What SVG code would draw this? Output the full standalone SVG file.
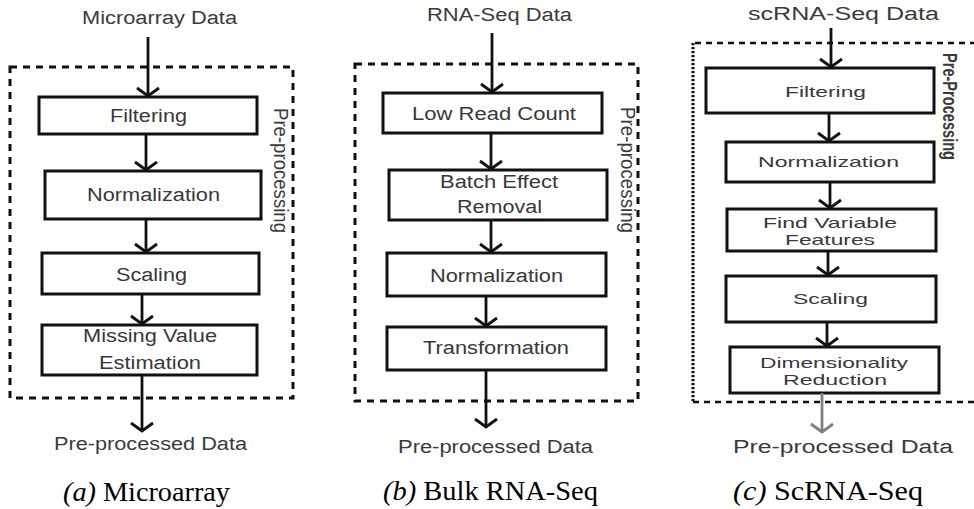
<svg xmlns="http://www.w3.org/2000/svg" width="974" height="509" viewBox="0 0 974 509">
  <style>
    .box { fill: #ffffff; stroke: #111111; stroke-width: 3; }
    .lbl { font-family: "Liberation Sans", Arial, sans-serif; font-size: 18px; fill: #383838; text-anchor: middle; }
    .lbl-s { font-family: "Liberation Sans", Arial, sans-serif; font-size: 15px; fill: #383838; text-anchor: middle; }
    .io { font-family: "Liberation Sans", Arial, sans-serif; font-size: 18px; fill: #3a3a3a; text-anchor: middle; }
    .side { font-family: "Liberation Sans", Arial, sans-serif; font-size: 17px; fill: #3a3a3a; }
    .cap { font-family: "Liberation Serif", "Times New Roman", serif; font-size: 28px; fill: #000000; text-anchor: middle; }
    .frame { fill: none; stroke: #111111; stroke-width: 3; stroke-dasharray: 7 6; }
    .frame2 { fill: none; stroke: #111111; stroke-width: 2.5; stroke-dasharray: 6 5; }
    .dots { fill: none; stroke: #111111; stroke-width: 3; stroke-dasharray: 2.2 1.8; }
    .link { fill: none; stroke: #111111; stroke-width: 2.8; marker-end: url(#vhead); }
    .link-grey { fill: none; stroke: #808080; stroke-width: 2.8; marker-end: url(#vhead-grey); }
  </style>
  <defs>
    <marker id="vhead" markerUnits="userSpaceOnUse" viewBox="-12 -14 15 28" markerWidth="15" markerHeight="28" refX="0" refY="0" orient="auto">
      <path d="M -8,-11 L 0,0 L -8,11" fill="none" stroke="#111111" stroke-width="2.8"/>
    </marker>
    <marker id="vhead-grey" markerUnits="userSpaceOnUse" viewBox="-12 -14 15 28" markerWidth="15" markerHeight="28" refX="0" refY="0" orient="auto">
      <path d="M -8,-11 L 0,0 L -8,11" fill="none" stroke="#808080" stroke-width="2.8"/>
    </marker>
  </defs>

  <!-- ===== (a) Microarray ===== -->
  <g id="panel-a">
    <rect class="frame" x="10" y="67" width="283" height="331"/>
    <text class="side" transform="translate(274,108) rotate(90) scale(1,1.2)" textLength="125" lengthAdjust="spacingAndGlyphs">Pre-processing</text>
    <text class="io" x="159.5" y="24" textLength="155" lengthAdjust="spacingAndGlyphs">Microarray Data</text>
    <text class="io" x="150.5" y="450" textLength="193" lengthAdjust="spacingAndGlyphs">Pre-processed Data</text>
    <text class="cap" x="146.5" y="501" textLength="167" lengthAdjust="spacingAndGlyphs"><tspan font-style="italic">(a)</tspan> Microarray</text>
  </g>
  <g id="a-filtering">
    <rect class="box" x="39" y="97" width="218" height="37"/>
    <text class="lbl" x="148.5" y="122" textLength="77" lengthAdjust="spacingAndGlyphs">Filtering</text>
  </g>
  <g id="a-normalization">
    <rect class="box" x="45" y="171" width="216" height="48"/>
    <text class="lbl" x="153.5" y="201" textLength="133" lengthAdjust="spacingAndGlyphs">Normalization</text>
  </g>
  <g id="a-scaling">
    <rect class="box" x="42" y="253" width="217" height="41"/>
    <text class="lbl" x="151.5" y="281" textLength="71" lengthAdjust="spacingAndGlyphs">Scaling</text>
  </g>
  <g id="a-missing">
    <rect class="box" x="42" y="325" width="215" height="50"/>
    <text class="lbl" x="150" y="342" textLength="134" lengthAdjust="spacingAndGlyphs">Missing Value</text>
    <text class="lbl" x="150" y="369" textLength="102" lengthAdjust="spacingAndGlyphs">Estimation</text>
  </g>

  <!-- ===== (b) Bulk RNA-Seq ===== -->
  <g id="panel-b">
    <rect class="frame" x="355" y="64" width="283" height="337"/>
    <text class="side" transform="translate(621,107) rotate(90) scale(1,1.2)" textLength="126" lengthAdjust="spacingAndGlyphs">Pre-processing</text>
    <text class="io" x="499.5" y="21" textLength="145" lengthAdjust="spacingAndGlyphs">RNA-Seq Data</text>
    <text class="io" x="495.5" y="453" textLength="195" lengthAdjust="spacingAndGlyphs">Pre-processed Data</text>
    <text class="cap" x="490.5" y="500" textLength="215" lengthAdjust="spacingAndGlyphs"><tspan font-style="italic">(b)</tspan> Bulk RNA-Seq</text>
  </g>
  <g id="b-lowread">
    <rect class="box" x="383" y="93" width="219" height="40"/>
    <text class="lbl" x="494" y="120" textLength="164" lengthAdjust="spacingAndGlyphs">Low Read Count</text>
  </g>
  <g id="b-batch">
    <rect class="box" x="389" y="170" width="218" height="50"/>
    <text class="lbl" x="499" y="188" textLength="118" lengthAdjust="spacingAndGlyphs">Batch Effect</text>
    <text class="lbl" x="499.5" y="213" textLength="85" lengthAdjust="spacingAndGlyphs">Removal</text>
  </g>
  <g id="b-normalization">
    <rect class="box" x="387" y="253" width="219" height="43"/>
    <text class="lbl" x="496.5" y="282" textLength="133" lengthAdjust="spacingAndGlyphs">Normalization</text>
  </g>
  <g id="b-transformation">
    <rect class="box" x="387" y="327" width="219" height="43"/>
    <text class="lbl" x="496" y="354" textLength="146" lengthAdjust="spacingAndGlyphs">Transformation</text>
  </g>

  <!-- ===== (c) ScRNA-Seq ===== -->
  <g id="panel-c">
    <path class="frame2" d="M 976,43 H 693"/>
    <path class="frame2" d="M 693,402 H 976"/>
    <path class="dots" d="M 693,43 V 402"/>
    <text class="side" font-weight="bold" font-size="15" transform="translate(943,53) rotate(90) scale(1,1.15)" textLength="107" lengthAdjust="spacingAndGlyphs">Pre-Processing</text>
    <text class="io" x="843.5" y="20" textLength="191" lengthAdjust="spacingAndGlyphs">scRNA-Seq Data</text>
    <text class="io" x="843" y="453" textLength="220" lengthAdjust="spacingAndGlyphs">Pre-processed Data</text>
    <text class="cap" x="828" y="500" textLength="190" lengthAdjust="spacingAndGlyphs"><tspan font-style="italic">(c)</tspan> ScRNA-Seq</text>
  </g>
  <g id="c-filtering">
    <rect class="box" x="706" y="68" width="228" height="45"/>
    <text class="lbl-s" x="825.5" y="97" textLength="81" lengthAdjust="spacingAndGlyphs">Filtering</text>
  </g>
  <g id="c-normalization">
    <rect class="box" x="726" y="142" width="208" height="40"/>
    <text class="lbl-s" x="828.5" y="167" textLength="141" lengthAdjust="spacingAndGlyphs">Normalization</text>
  </g>
  <g id="c-variable">
    <rect class="box" x="727" y="209" width="209" height="42"/>
    <text class="lbl-s" x="830" y="228" textLength="134" lengthAdjust="spacingAndGlyphs">Find Variable</text>
    <text class="lbl-s" x="830" y="245" textLength="90" lengthAdjust="spacingAndGlyphs">Features</text>
  </g>
  <g id="c-scaling">
    <rect class="box" x="726" y="276" width="210" height="46"/>
    <text class="lbl-s" x="830.5" y="304" textLength="75" lengthAdjust="spacingAndGlyphs">Scaling</text>
  </g>
  <g id="c-dimred">
    <rect class="box" x="730" y="347" width="209" height="46"/>
    <text class="lbl-s" x="834" y="368" textLength="148" lengthAdjust="spacingAndGlyphs">Dimensionality</text>
    <text class="lbl-s" x="835" y="385" textLength="104" lengthAdjust="spacingAndGlyphs">Reduction</text>
  </g>

  <!-- ===== connectors ===== -->
  <g id="connectors">
    <path class="link" d="M 148,37 V 96"/>
    <path class="link" d="M 146,134 V 170"/>
    <path class="link" d="M 146,219 V 252"/>
    <path class="link" d="M 142,294 V 324"/>
    <path class="link" d="M 142,375 V 431"/>

    <path class="link" d="M 492,33 V 92"/>
    <path class="link" d="M 491,133 V 169"/>
    <path class="link" d="M 491,220 V 252"/>
    <path class="link" d="M 486,296 V 326"/>
    <path class="link" d="M 486,370 V 427"/>

    <path class="link" d="M 831,28 V 67"/>
    <path class="link" d="M 829,113 V 141"/>
    <path class="link" d="M 830,182 V 208"/>
    <path class="link" d="M 828,251 V 275"/>
    <path class="link" d="M 827,322 V 346"/>
    <path class="link-grey" d="M 822,393 V 432"/>
  </g>
</svg>
